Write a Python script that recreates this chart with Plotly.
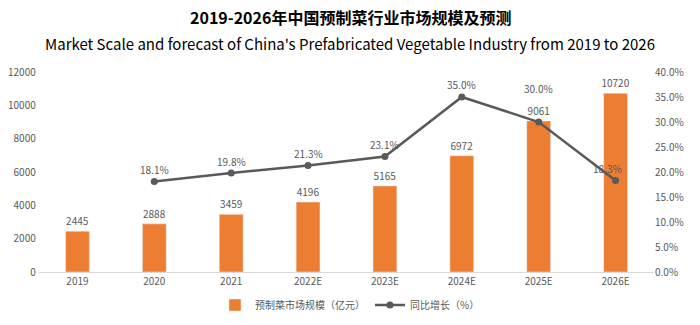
import plotly.graph_objects as go

years = ["2019", "2020", "2021", "2022E", "2023E", "2024E", "2025E", "2026E"]
market_size = [2445, 2888, 3459, 4196, 5165, 6972, 9061, 10720]
growth_pct = [None, 18.1, 19.8, 21.3, 23.1, 35.0, 30.0, 18.3]

# label offsets (pixels) for the growth-rate labels
label_dx = [0, 0, 0, 0, 0, 0, 0, -8]
label_dy = [0, 12, 12, 12, 12, 13, 34, 12]

FONT = "Noto Sans CJK SC"
GRAY = "#595959"

growth = [None if g is None else g / 100 for g in growth_pct]

fig = go.Figure()
fig.add_trace(go.Bar(
    x=years, y=market_size, name="预制菜市场规模（亿元）",
    marker=dict(color="#ED7D31"), width=0.31,
    text=[str(v) for v in market_size], textposition="outside",
    constraintext="none",
    textfont=dict(size=10, color=GRAY, family=FONT), cliponaxis=False,
))
fig.add_trace(go.Scatter(
    x=years, y=growth, name="同比增长（%）", yaxis="y2",
    mode="lines+markers",
    line=dict(color=GRAY, width=2.5), marker=dict(size=7, color=GRAY),
    cliponaxis=False,
))

# growth-rate labels; category index used for x so "2020" is not read as a number
annotations = []
for i, (g, dx, dy) in enumerate(zip(growth, label_dx, label_dy)):
    if g is None:
        continue
    annotations.append(dict(
        x=i, y=g, xref="x", yref="y2", text=f"{g * 100:.1f}%",
        showarrow=False, xshift=dx, yshift=dy, yanchor="middle",
        font=dict(size=10, color=GRAY, family=FONT),
    ))

plot_h = 325 - 72 - 53
plot_w = 700 - 39 - 46
title_x = (350 - 39) / plot_w
annotations += [
    dict(text="<b>2019-2026年中国预制菜行业市场规模及预测</b>",
         x=title_x, y=(325 - 53 - 17) / plot_h, xref="paper", yref="paper",
         xanchor="center", yanchor="middle", showarrow=False,
         font=dict(size=16, color="#000000", family=FONT)),
    dict(text="Market Scale and forecast of China's Prefabricated Vegetable Industry from 2019 to 2026",
         x=title_x, y=(325 - 53 - 43) / plot_h, xref="paper", yref="paper",
         xanchor="center", yanchor="middle", showarrow=False,
         font=dict(size=15, color="#000000", family=FONT)),
]

fig.update_layout(
    width=700, height=325,
    margin=dict(l=39, r=46, t=72, b=53, autoexpand=False),
    paper_bgcolor="white", plot_bgcolor="white",
    font=dict(family=FONT, color=GRAY, size=10),
    xaxis=dict(type="category", range=[-0.5, len(years) - 0.5],
               showline=True, linecolor="#d9d9d9", linewidth=1,
               ticks="", tickfont=dict(size=10, color=GRAY)),
    yaxis=dict(range=[0, 12000], dtick=2000, tickformat="d", showgrid=False,
               zeroline=False, showline=False,
               tickfont=dict(size=10, color=GRAY), ticksuffix=" "),
    yaxis2=dict(range=[0, 0.4], dtick=0.05, tickformat=".1%", overlaying="y",
                side="right", showgrid=False, zeroline=False, showline=False,
                tickfont=dict(size=10, color=GRAY)),
    legend=dict(orientation="h", x=(350 - 39) / plot_w, xanchor="center",
                y=-(305 - 272) / plot_h, yanchor="middle",
                font=dict(size=10, color=GRAY), itemwidth=30,
                tracegroupgap=0),
    annotations=annotations,
)

fig.write_html("out.html")
